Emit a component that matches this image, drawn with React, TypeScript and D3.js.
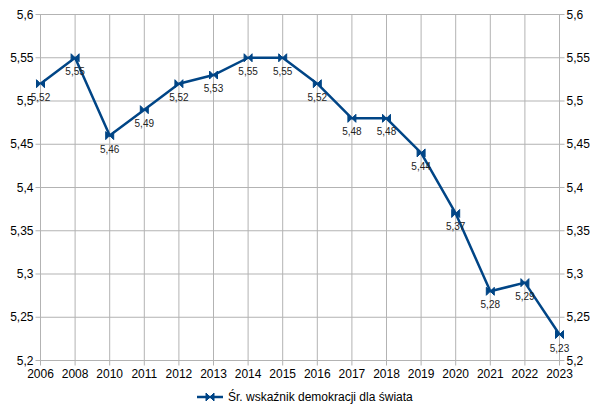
import React from "react";
import * as d3 from "d3";

const years = ["2006","2008","2010","2011","2012","2013","2014","2015","2016","2017","2018","2019","2020","2021","2022","2023"];
const values = [5.52,5.55,5.46,5.49,5.52,5.53,5.55,5.55,5.52,5.48,5.48,5.44,5.37,5.28,5.29,5.23];
const yTicks = [5.2,5.25,5.3,5.35,5.4,5.45,5.5,5.55,5.6];
const seriesName = "Śr. wskaźnik demokracji dla świata";

const fmt = (v: number) => String(+v.toFixed(2)).replace(".", ",");

export default function App() {
  const W = 600, H = 415;
  const left = 40.5, right = 559.5, top = 14.5, bottom = 360.5;
  const x = d3.scalePoint<string>().domain(years).range([left, right]);
  const y = d3.scaleLinear().domain([5.2, 5.6]).range([bottom, top]);
  const line = d3.line<number>().x((_, i) => x(years[i])!).y(d => y(d));
  const color = "#004586";
  const grid = "#b3b3b3";
  const font = "Liberation Sans, Arial, sans-serif";
  const marker = "M-4,-4 L4,4 L4,-4 L-4,4 Z";
  return (
    <svg width={W} height={H} style={{ position: "absolute", left: 0, top: 0, background: "#fff" }}>
      <rect x={0} y={0} width={W} height={H} fill="#fff" />
      {yTicks.map(t => (
        <g key={"y" + t}>
          <line x1={left - 5} x2={right + 5} y1={y(t)} y2={y(t)} stroke={grid} strokeWidth={1} />
          <text x={left - 7} y={y(t) + 4} textAnchor="end" fontFamily={font} fontSize={12} fill="#000">{fmt(t)}</text>
          <text x={right + 7} y={y(t) + 4} textAnchor="start" fontFamily={font} fontSize={12} fill="#000">{fmt(t)}</text>
        </g>
      ))}
      {years.map(yr => (
        <g key={"x" + yr}>
          <line x1={x(yr)} x2={x(yr)} y1={top} y2={bottom + 5} stroke={grid} strokeWidth={1} />
          <text x={x(yr)} y={bottom + 17} textAnchor="middle" fontFamily={font} fontSize={12} fill="#000">{yr}</text>
        </g>
      ))}
      <path d={line(values)!} fill="none" stroke={color} strokeWidth={2.5} strokeLinejoin="round" />
      {values.map((v, i) => (
        <path key={"m" + i} d={marker} transform={`translate(${x(years[i])},${y(v)})`} fill={color} stroke={color} strokeWidth={1} />
      ))}
      {values.map((v, i) => (
        <text key={"l" + i} x={x(years[i])} y={y(v) + 17} textAnchor="middle" fontFamily={font} fontSize={10} fill="#222">{fmt(v)}</text>
      ))}
      <g>
        <line x1={197} x2={223} y1={397} y2={397} stroke={color} strokeWidth={2.5} />
        <path d={marker} transform="translate(210,397)" fill={color} stroke={color} strokeWidth={1} />
        <text x={228} y={401} fontFamily={font} fontSize={12} fill="#000">{seriesName}</text>
      </g>
    </svg>
  );
}
